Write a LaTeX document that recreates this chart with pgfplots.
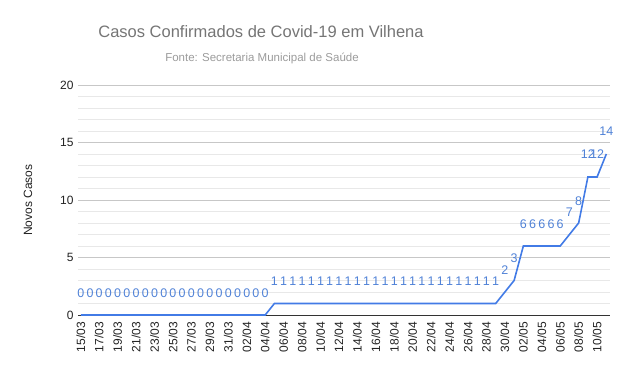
\documentclass[border=0pt]{standalone}
\usepackage{pgfplots}
\pgfplotsset{compat=1.18}
\usepackage{fontspec}
\setmainfont{Liberation Sans}
\definecolor{linec}{RGB}{66,123,230}
\definecolor{labc}{RGB}{80,130,215}
\definecolor{titc}{RGB}{117,117,117}
\definecolor{subc}{RGB}{155,155,155}
\definecolor{tickc}{RGB}{34,34,34}
\begin{document}
\begin{tikzpicture}[x=1bp,y=1bp]
\path[use as bounding box] (0,0) rectangle (631,371);
\node[text=titc,font=\fontsize{16.5bp}{19bp}\selectfont] at (261,339) {Casos Confirmados de Covid-19 em Vilhena};
\node[text=subc,font=\fontsize{11.5bp}{14bp}\selectfont] at (262,313) {Fonte: Secretaria Municipal de Saúde};
\begin{axis}[
  at={(78bp,56bp)}, anchor=south west,
  width=532bp, height=230bp, scale only axis,
  xmin=-0.3, xmax=57.4, ymin=0, ymax=20,
  ytick={0,5,10,15,20},
  minor ytick={1,2,3,4,6,7,8,9,11,12,13,14,16,17,18,19},
  ymajorgrids, yminorgrids,
  major grid style={draw=black!22, line width=0.6bp},
  minor grid style={draw=black!9, line width=0.6bp},
  axis x line*=bottom, axis y line*=left,
  y axis line style={draw=none},
  x axis line style={draw=black!80, line width=0.8bp},
  major tick length=0pt, minor tick length=0pt,
  xtick={0,2,...,56},
  xticklabels={15/03,17/03,19/03,21/03,23/03,25/03,27/03,29/03,31/03,02/04,04/04,06/04,08/04,10/04,12/04,14/04,16/04,18/04,20/04,22/04,24/04,26/04,28/04,30/04,02/05,04/05,06/05,08/05,10/05},
  x tick label style={rotate=90, anchor=east, font=\fontsize{12bp}{14bp}\selectfont, text=tickc, inner sep=0pt, xshift=-7bp},
  y tick label style={font=\fontsize{12bp}{14bp}\selectfont, text=tickc, xshift=-1bp},
  /pgf/number format/assume math mode=true,
  ylabel={Novos Casos},
  ylabel style={at={(axis description cs:-0.094,0.5)}, anchor=center, font=\fontsize{12bp}{14bp}\selectfont, text=tickc},
  clip=false,
  nodes near coords,
  every node near coord/.append style={anchor=base, inner sep=0pt, yshift=18bp, text=labc, font=\fontsize{12.5bp}{14bp}\selectfont},
]
\addplot[linec, line width=1.6bp, mark=none] coordinates {
(0,0)(1,0)(2,0)(3,0)(4,0)(5,0)(6,0)(7,0)(8,0)(9,0)(10,0)(11,0)(12,0)(13,0)(14,0)(15,0)(16,0)(17,0)(18,0)(19,0)(20,0)
(21,1)(22,1)(23,1)(24,1)(25,1)(26,1)(27,1)(28,1)(29,1)(30,1)(31,1)(32,1)(33,1)(34,1)(35,1)(36,1)(37,1)(38,1)(39,1)(40,1)(41,1)(42,1)(43,1)(44,1)(45,1)
(46,2)(47,3)(48,6)(49,6)(50,6)(51,6)(52,6)(53,7)(54,8)(55,12)(56,12)(57,14)
};
\end{axis}
\end{tikzpicture}
\end{document}
